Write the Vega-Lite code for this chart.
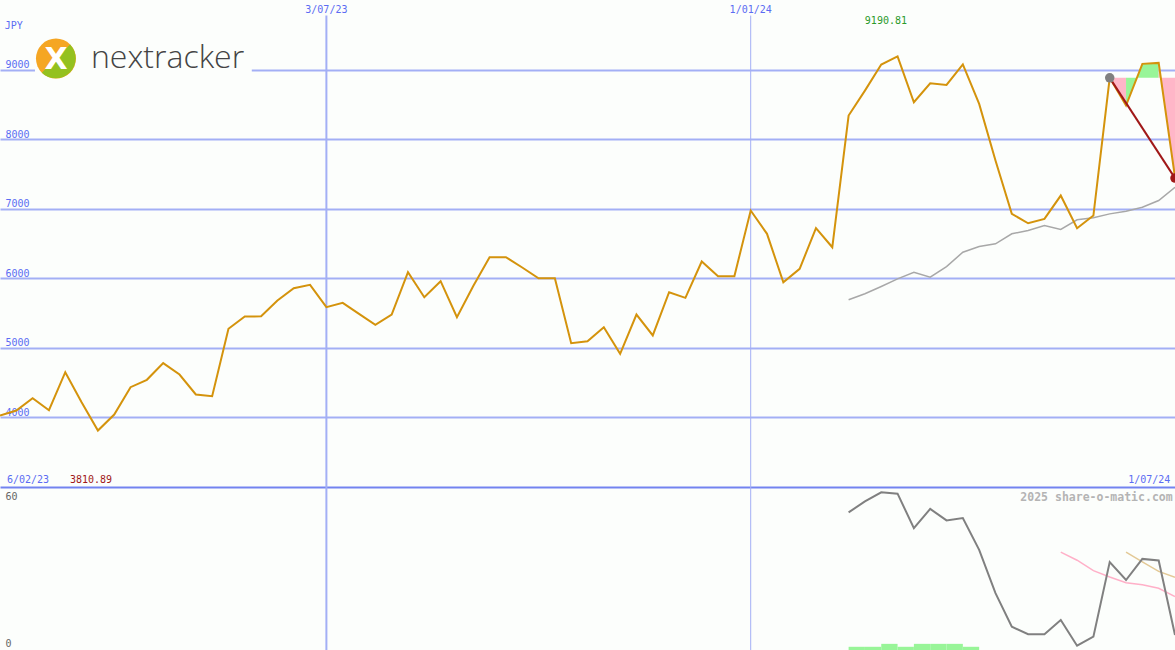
{
  "$schema": "https://vega.github.io/schema/vega-lite/v6.json",
  "width": 1175,
  "height": 650,
  "autosize": {"type": "none"},
  "background": "#fcfefc",
  "padding": 0,
  "config": {
    "view": {"stroke": null},
    "font": "DejaVu Sans Mono",
    "axis": {"domain": false, "ticks": false, "tickSize": 0, "title": null, "titlePadding": 0, "labelOverlap": false, "labelFlush": false, "labelBound": false, "minExtent": 0, "maxExtent": 0, "offset": 0}
  },
  "datasets": {
    "price": [
      {"d":"2023-02-13","v":4028},{"d":"2023-02-20","v":4100},{"d":"2023-02-27","v":4277},{"d":"2023-03-06","v":4104},
      {"d":"2023-03-13","v":4650},{"d":"2023-03-20","v":4219},{"d":"2023-03-27","v":3811},{"d":"2023-04-03","v":4042},
      {"d":"2023-04-10","v":4435},{"d":"2023-04-17","v":4541},{"d":"2023-04-24","v":4780},{"d":"2023-05-01","v":4617},
      {"d":"2023-05-08","v":4330},{"d":"2023-05-15","v":4305},{"d":"2023-05-22","v":5274},{"d":"2023-05-29","v":5451},
      {"d":"2023-06-05","v":5453},{"d":"2023-06-12","v":5681},{"d":"2023-06-19","v":5858},{"d":"2023-06-26","v":5906},
      {"d":"2023-07-03","v":5585},{"d":"2023-07-10","v":5647},{"d":"2023-07-17","v":5489},{"d":"2023-07-24","v":5331},
      {"d":"2023-07-31","v":5479},{"d":"2023-08-07","v":6088},{"d":"2023-08-14","v":5728},{"d":"2023-08-21","v":5958},
      {"d":"2023-08-28","v":5441},{"d":"2023-09-04","v":5890},{"d":"2023-09-11","v":6303},{"d":"2023-09-18","v":6303},
      {"d":"2023-09-25","v":6155},{"d":"2023-10-02","v":6001},{"d":"2023-10-09","v":6001},{"d":"2023-10-16","v":5067},
      {"d":"2023-10-23","v":5096},{"d":"2023-10-30","v":5297},{"d":"2023-11-06","v":4915},{"d":"2023-11-13","v":5479},
      {"d":"2023-11-20","v":5178},{"d":"2023-11-27","v":5800},{"d":"2023-12-04","v":5719},{"d":"2023-12-11","v":6241},
      {"d":"2023-12-18","v":6030},{"d":"2023-12-25","v":6030},{"d":"2024-01-01","v":6974},{"d":"2024-01-08","v":6639},
      {"d":"2024-01-15","v":5943},{"d":"2024-01-22","v":6136},{"d":"2024-01-29","v":6720},{"d":"2024-02-05","v":6446},
      {"d":"2024-02-12","v":8339},{"d":"2024-02-19","v":8698},{"d":"2024-02-26","v":9072},{"d":"2024-03-04","v":9190.81},
      {"d":"2024-03-11","v":8530},{"d":"2024-03-18","v":8803},{"d":"2024-03-25","v":8780},{"d":"2024-04-01","v":9075},
      {"d":"2024-04-08","v":8507},{"d":"2024-04-15","v":7692},{"d":"2024-04-22","v":6926},{"d":"2024-04-29","v":6791},
      {"d":"2024-05-06","v":6854},{"d":"2024-05-13","v":7189},{"d":"2024-05-20","v":6720},{"d":"2024-05-27","v":6902},
      {"d":"2024-06-03","v":8881},{"d":"2024-06-10","v":8483},{"d":"2024-06-17","v":9082},{"d":"2024-06-24","v":9096},
      {"d":"2024-07-01","v":7452}
    ],
    "ma": [
      {"d":"2024-02-12","v":5691},{"d":"2024-02-19","v":5777},{"d":"2024-02-26","v":5882},{"d":"2024-03-04","v":5992},
      {"d":"2024-03-11","v":6087},{"d":"2024-03-18","v":6015},{"d":"2024-03-25","v":6169},{"d":"2024-04-01","v":6375},
      {"d":"2024-04-08","v":6457},{"d":"2024-04-15","v":6495},{"d":"2024-04-22","v":6639},{"d":"2024-04-29","v":6686},
      {"d":"2024-05-06","v":6758},{"d":"2024-05-13","v":6701},{"d":"2024-05-20","v":6840},{"d":"2024-05-27","v":6869},
      {"d":"2024-06-03","v":6926},{"d":"2024-06-10","v":6964},{"d":"2024-06-17","v":7021},{"d":"2024-06-24","v":7118},
      {"d":"2024-07-01","v":7309}
    ],
    "fill": [
      {"d":"2024-06-03","v":8881,"seg":"a","dir":"down"},{"d":"2024-06-10","v":8483,"seg":"a","dir":"down"},
      {"d":"2024-06-10","v":8483,"seg":"b","dir":"up"},{"d":"2024-06-17","v":9082,"seg":"b","dir":"up"},{"d":"2024-06-24","v":9096,"seg":"b","dir":"up"},
      {"d":"2024-06-24","v":9096,"seg":"c","dir":"down"},{"d":"2024-07-01","v":7452,"seg":"c","dir":"down"}
    ],
    "trend": [
      {"d":"2024-06-03","v":8881,"role":"start"},{"d":"2024-07-01","v":7440,"role":"end"}
    ],
    "vlines": [{"d":"2023-07-03","w":"major"},{"d":"2024-01-01","w":"minor"}],
    "osc": [
      {"d":"2024-02-12","rsi":51.5},{"d":"2024-02-19","rsi":55.6},{"d":"2024-02-26","rsi":59.0},{"d":"2024-03-04","rsi":58.5},
      {"d":"2024-03-11","rsi":45.6},{"d":"2024-03-18","rsi":52.8},{"d":"2024-03-25","rsi":48.5},{"d":"2024-04-01","rsi":49.4},
      {"d":"2024-04-08","rsi":37.5},{"d":"2024-04-15","rsi":21.3},{"d":"2024-04-22","rsi":8.7},{"d":"2024-04-29","rsi":5.9},
      {"d":"2024-05-06","rsi":5.9},{"d":"2024-05-13","rsi":11.2,"m1":36.6},{"d":"2024-05-20","rsi":1.6,"m1":33.6},
      {"d":"2024-05-27","rsi":5.0,"m1":29.7},{"d":"2024-06-03","rsi":32.9,"m1":27.3},{"d":"2024-06-10","rsi":26.2,"m1":25.2,"m2":36.6},
      {"d":"2024-06-17","rsi":34.1,"m1":24.4,"m2":33.0},{"d":"2024-06-24","rsi":33.5,"m1":23.1,"m2":29.4},
      {"d":"2024-07-01","rsi":5.6,"m1":20.0,"m2":27.2}
    ],
    "vol": [
      {"d":"2024-02-12","d2":"2024-02-19","v":1.2},{"d":"2024-02-19","d2":"2024-02-26","v":1.2},
      {"d":"2024-02-26","d2":"2024-03-04","v":2.3},{"d":"2024-03-04","d2":"2024-03-11","v":1.2},
      {"d":"2024-03-11","d2":"2024-03-18","v":2.3},{"d":"2024-03-18","d2":"2024-03-25","v":2.3},
      {"d":"2024-03-25","d2":"2024-04-01","v":2.3},{"d":"2024-04-01","d2":"2024-04-08","v":1.2}
    ]
  },
  "encoding": {
    "x": {"field": "d", "type": "temporal", "axis": null,
          "scale": {"domain": [{"year":2023,"month":2,"date":13,"utc":true},{"year":2024,"month":7,"date":1,"utc":true}]}}
  },
  "resolve": {"scale": {"y": "independent"}, "axis": {"y": "independent"}},
  "layer": [
    {
      "resolve": {"scale": {"color": "independent"}},
      "layer": [
        {
          "data": {"name": "price"},
          "mark": {"type": "line", "opacity": 0},
          "encoding": {
            "y": {"field": "v", "type": "quantitative",
                  "scale": {"domain": [657.1, 10000], "nice": false, "zero": false},
                  "axis": {
                    "orient": "left",
                    "values": [3000,4000,5000,6000,7000,8000,9000],
                    "grid": true, "gridWidth": 2,
                    "gridColor": {"condition": {"test": "datum.value == 3000", "value": "#7383f0"}, "value": "#a3aff5"},
                    "labelExpr": "datum.value == 3000 ? '' : datum.label",
                    "format": "d",
                    "labelAlign": "left", "labelPadding": -5, "labelBaseline": "bottom", "labelOffset": 0,
                    "labelColor": "#5b6cf3", "labelFont": "DejaVu Sans Mono", "labelFontSize": 10
                  }}
          }
        },
        {
          "data": {"name": "vlines"},
          "mark": {"type": "rule", "color": "#a3aff5"},
          "encoding": {
            "y": {"datum": 9776, "type": "quantitative"},
            "y2": {"datum": 657.1},
            "strokeWidth": {"condition": {"test": "datum.w == 'major'", "value": 2}, "value": 1}
          }
        },
        {
          "data": {"values": [{"d":"2023-02-28","d2":"2023-06-01","v":9474,"v2":8842}]},
          "mark": {"type": "rect", "color": "#fcfefc"},
          "encoding": {
            "x2": {"field": "d2"},
            "y": {"field": "v", "type": "quantitative"}, "y2": {"field": "v2"}
          }
        },
        {
          "data": {"values": [{"d":"2023-03-09","v":9158}]},
          "encoding": {"y": {"field": "v", "type": "quantitative"}},
          "layer": [
            {"mark": {"type": "point", "shape": "circle", "filled": true, "size": 1600, "color": "#f5a623", "opacity": 1}},
            {"mark": {"type": "point", "shape": "M 0.707 -0.707 A 1 1 0 0 1 -0.707 0.707 Z", "filled": true, "size": 1600, "color": "#94c11f", "opacity": 1}},
            {"mark": {"type": "text", "text": "X", "font": "DejaVu Sans", "fontWeight": "bold", "fontSize": 30, "color": "#ffffff", "align": "center", "baseline": "middle", "dy": 1}}
          ]
        },
        {
          "data": {"values": [{"d":"2023-03-24","v":9029,"text":"nextracker"}]},
          "mark": {"type": "text", "font": "Open Sans", "fontWeight": 300, "fontSize": 32, "color": "#444444", "align": "left", "baseline": "alphabetic"},
          "encoding": {"y": {"field": "v", "type": "quantitative"}, "text": {"field": "text"}}
        },
        {
          "data": {"name": "fill"},
          "mark": {"type": "area", "opacity": 1},
          "encoding": {
            "y": {"field": "v", "type": "quantitative", "stack": null},
            "y2": {"datum": 8881},
            "detail": {"field": "seg"},
            "color": {"field": "dir", "type": "nominal", "legend": null,
                      "scale": {"domain": ["down", "up"], "range": ["#ffb6c8", "#98f598"]}}
          }
        },
        {
          "data": {"name": "ma"},
          "mark": {"type": "line", "color": "#a8a8a8", "strokeWidth": 1.5},
          "encoding": {"y": {"field": "v", "type": "quantitative"}}
        },
        {
          "data": {"name": "price"},
          "mark": {"type": "line", "color": "#d4930c", "strokeWidth": 2},
          "encoding": {"y": {"field": "v", "type": "quantitative"}}
        },
        {
          "data": {"name": "trend"},
          "mark": {"type": "line", "color": "#a01818", "strokeWidth": 2},
          "encoding": {"y": {"field": "v", "type": "quantitative"}}
        },
        {
          "data": {"name": "trend"},
          "mark": {"type": "point", "filled": true, "size": 90, "opacity": 1},
          "encoding": {
            "y": {"field": "v", "type": "quantitative"},
            "color": {"field": "role", "type": "nominal", "legend": null,
                      "scale": {"domain": ["start", "end"], "range": ["#808080", "#a01818"]}}
          }
        },
        {
          "data": {"values": [
            {"d":"2023-02-15","v":9590,"text":"JPY"},
            {"d":"2023-02-16","v":3060,"text":"6/02/23"}
          ]},
          "mark": {"type": "text", "align": "left", "baseline": "alphabetic", "fontSize": 10, "color": "#5b6cf3", "font": "DejaVu Sans Mono"},
          "encoding": {"y": {"field": "v", "type": "quantitative"}, "text": {"field": "text"}}
        },
        {
          "data": {"values": [
            {"d":"2023-07-03","v":9810,"text":"3/07/23"},
            {"d":"2024-01-01","v":9810,"text":"1/01/24"}
          ]},
          "mark": {"type": "text", "align": "center", "baseline": "alphabetic", "fontSize": 10, "color": "#5b6cf3", "font": "DejaVu Sans Mono"},
          "encoding": {"y": {"field": "v", "type": "quantitative"}, "text": {"field": "text"}}
        },
        {
          "data": {"values": [{"d":"2024-06-29","v":3060,"text":"1/07/24"}]},
          "mark": {"type": "text", "align": "right", "baseline": "alphabetic", "fontSize": 10, "color": "#5b6cf3", "font": "DejaVu Sans Mono"},
          "encoding": {"y": {"field": "v", "type": "quantitative"}, "text": {"field": "text"}}
        },
        {
          "data": {"values": [{"d":"2024-02-28","v":9650,"text":"9190.81"}]},
          "mark": {"type": "text", "align": "center", "baseline": "alphabetic", "fontSize": 10, "color": "#2a9a2a", "font": "DejaVu Sans Mono"},
          "encoding": {"y": {"field": "v", "type": "quantitative"}, "text": {"field": "text"}}
        },
        {
          "data": {"values": [{"d":"2023-03-15","v":3060,"text":"3810.89"}]},
          "mark": {"type": "text", "align": "left", "baseline": "alphabetic", "fontSize": 10, "color": "#a01818", "font": "DejaVu Sans Mono"},
          "encoding": {"y": {"field": "v", "type": "quantitative"}, "text": {"field": "text"}}
        }
      ]
    },
    {
      "layer": [
        {
          "data": {"name": "vol"},
          "mark": {"type": "rect", "color": "#98f598"},
          "encoding": {
            "x2": {"field": "d2"},
            "y": {"field": "v", "type": "quantitative", "scale": {"domain": [0, 243.25], "nice": false, "zero": false},
                  "axis": {"orient": "left", "values": [0, 60], "grid": false, "labelAlign": "left", "labelPadding": -5,
                           "labelBaseline": {"condition": {"test": "datum.value == 60", "value": "top"}, "value": "bottom"},
                           "labelOffset": {"condition": {"test": "datum.value == 60", "value": 2}, "value": -2},
                           "labelColor": "#666666", "labelFont": "DejaVu Sans Mono", "labelFontSize": 10}},
            "y2": {"datum": 0}
          }
        },
        {
          "data": {"name": "osc"},
          "mark": {"type": "line", "color": "#ffb0c8", "strokeWidth": 1.5},
          "encoding": {"y": {"field": "m1", "type": "quantitative"}}
        },
        {
          "data": {"name": "osc"},
          "mark": {"type": "line", "color": "#e3c996", "strokeWidth": 1.5},
          "encoding": {"y": {"field": "m2", "type": "quantitative"}}
        },
        {
          "data": {"name": "osc"},
          "mark": {"type": "line", "color": "#808080", "strokeWidth": 2},
          "encoding": {"y": {"field": "rsi", "type": "quantitative"}}
        },
        {
          "data": {"values": [{"d":"2024-06-30","v":55.8,"text":"2025 share-o-matic.com"}]},
          "mark": {"type": "text", "align": "right", "baseline": "alphabetic", "fontSize": 11.5, "fontWeight": "bold", "color": "#b4b4b4", "font": "DejaVu Sans Mono"},
          "encoding": {"y": {"field": "v", "type": "quantitative"}, "text": {"field": "text"}}
        }
      ]
    }
  ]
}
